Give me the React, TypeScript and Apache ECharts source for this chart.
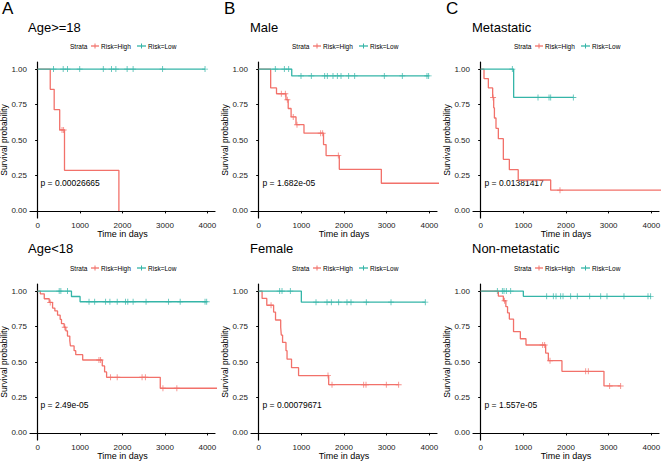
import React, { useEffect, useRef } from "react";
import * as echarts from "echarts";

const FONT = "'Liberation Sans', Arial, Helvetica, sans-serif";
const RED = "#F2716A";
const TEAL = "#35B5A8";

const titles = ["Age>=18", "Male", "Metastatic", "Age<18", "Female", "Non-metastatic"];
const letters = ["A", "B", "C"];
const pValues = ["p = 0.00026665", "p = 1.682e-05", "p = 0.01381417", "p = 2.49e-05", "p = 0.00079671", "p = 1.557e-05"];
const xTicks = [0, 1000, 2000, 3000, 4000];
const yTicks = [0, 0.25, 0.5, 0.75, 1];
const strataLabels = ["Risk=High", "Risk=Low"];

// Panel A: Age>=18
const aHighTime = [0, 297, 390, 520, 633, 1915];
const aHighSurv = [1, 0.857, 0.714, 0.571, 0.286, 0];
const aHighEnd = 1915;
const aHighCensor = [575, 612];
const aLowTime = [0];
const aLowSurv = [1];
const aLowEnd = 3945;
const aLowCensor = [375, 602, 703, 992, 1547, 1742, 1844, 2109, 2250, 2945, 3945];

// Panel B: Male
const bHighTime = [0, 281, 418, 640, 692, 760, 875, 1062, 1520, 1580, 1890, 2875];
const bHighSurv = [1, 0.867, 0.826, 0.784, 0.722, 0.663, 0.608, 0.548, 0.468, 0.39, 0.293, 0.195];
const bHighEnd = 4400;
const bHighCensor = [531, 625, 672, 810, 898, 1453, 1500, 1867];
const bLowTime = [0, 775];
const bLowSurv = [1, 0.952];
const bLowEnd = 3984;
const bLowCensor = [390, 602, 703, 992, 1234, 1547, 1609, 1742, 1844, 1930, 2109, 2250, 2945, 3367, 3945, 3984];

// Panel C: Metastatic
const cHighTime = [0, 78, 180, 281, 305, 322, 359, 414, 531, 672, 880, 1641];
const cHighSurv = [1, 0.933, 0.867, 0.8, 0.727, 0.655, 0.582, 0.509, 0.364, 0.291, 0.218, 0.146];
const cHighEnd = 4400;
const cHighCensor = [290, 1859];
const cLowTime = [0, 773];
const cLowSurv = [1, 0.8];
const cLowEnd = 2172;
const cLowCensor = [742, 1344, 1602, 1641, 2172];

// Panel D: Age<18
const dHighTime = [0, 62, 156, 273, 352, 406, 469, 531, 562, 625, 664, 703, 758, 773, 859, 898, 1062, 1523, 1578, 1625, 2890];
const dHighSurv = [1, 0.981, 0.946, 0.92, 0.88, 0.86, 0.83, 0.8, 0.77, 0.745, 0.72, 0.683, 0.65, 0.613, 0.58, 0.552, 0.514, 0.472, 0.43, 0.392, 0.315];
const dHighEnd = 4400;
const dHighCensor = [297, 640, 1445, 1484, 1719, 1875, 2461, 2539, 2953, 3281];
const dLowTime = [0, 797, 1000];
const dLowSurv = [1, 0.962, 0.925];
const dLowEnd = 3984;
const dLowCensor = [508, 547, 703, 1211, 1344, 1602, 1703, 1875, 2070, 2125, 2250, 2555, 3086, 3359, 3945, 3984];

// Panel E: Female
const eHighTime = [0, 80, 190, 350, 395, 516, 530, 560, 640, 665, 770, 935, 1641];
const eHighSurv = [1, 0.948, 0.9, 0.852, 0.796, 0.745, 0.69, 0.638, 0.58, 0.52, 0.46, 0.404, 0.34];
const eHighEnd = 3281;
const eHighCensor = [290, 1625, 1719, 2461, 2516, 2992, 3281];
const eLowTime = [0, 1000];
const eLowSurv = [1, 0.922];
const eLowEnd = 3906;
const eLowCensor = [492, 547, 742, 1344, 1602, 1703, 1875, 2070, 2164, 2523, 3102, 3906];

// Panel F: Non-metastatic
const fHighTime = [0, 414, 531, 590, 630, 672, 770, 930, 1062, 1523, 1586, 1905, 2890];
const fHighSurv = [1, 0.965, 0.932, 0.89, 0.847, 0.803, 0.714, 0.664, 0.62, 0.563, 0.509, 0.434, 0.331];
const fHighEnd = 3281;
const fHighCensor = [560, 1453, 1500, 1625, 2461, 2523, 3023, 3281];
const fLowTime = [0, 1000];
const fLowSurv = [1, 0.963];
const fLowEnd = 3984;
const fLowCensor = [391, 508, 547, 602, 703, 1547, 1703, 1766, 1875, 1930, 2109, 2265, 2555, 2813, 2961, 3359, 3922, 3984];

const panels = [
  { hT: aHighTime, hS: aHighSurv, hE: aHighEnd, hC: aHighCensor, lT: aLowTime, lS: aLowSurv, lE: aLowEnd, lC: aLowCensor },
  { hT: bHighTime, hS: bHighSurv, hE: bHighEnd, hC: bHighCensor, lT: bLowTime, lS: bLowSurv, lE: bLowEnd, lC: bLowCensor },
  { hT: cHighTime, hS: cHighSurv, hE: cHighEnd, hC: cHighCensor, lT: cLowTime, lS: cLowSurv, lE: cLowEnd, lC: cLowCensor },
  { hT: dHighTime, hS: dHighSurv, hE: dHighEnd, hC: dHighCensor, lT: dLowTime, lS: dLowSurv, lE: dLowEnd, lC: dLowCensor },
  { hT: eHighTime, hS: eHighSurv, hE: eHighEnd, hC: eHighCensor, lT: eLowTime, lS: eLowSurv, lE: eLowEnd, lC: eLowCensor },
  { hT: fHighTime, hS: fHighSurv, hE: fHighEnd, hC: fHighCensor, lT: fLowTime, lS: fLowSurv, lE: fLowEnd, lC: fLowCensor },
];

const PLUS = "path://M3.4,0H4.6V3.4H8V4.6H4.6V8H3.4V4.6H0V3.4H3.4Z";

function kmData(times: number[], surv: number[], end: number) {
  const d = times.map((t, i) => [t, surv[i]]);
  d.push([end, surv[surv.length - 1]]);
  return d;
}
function survAt(times: number[], surv: number[], t: number) {
  let s = surv[0];
  for (let i = 0; i < times.length; i++) if (times[i] <= t) s = surv[i];
  return s;
}

const colLeft = [30, 251, 473];
const colOffset = [0, 222, 444];
const rowTop = [62, 284];
const titleY = [27, 248];
const legendY = [46, 268];
const pY = [183, 405];
const GW = 185;
const GH = 156;

export default function App() {
  const ref = useRef<HTMLDivElement>(null);
  useEffect(() => {
    if (!ref.current) return;
    const chart = echarts.init(ref.current, null, { renderer: "svg" });
    const grid: any[] = [];
    const xAxis: any[] = [];
    const yAxis: any[] = [];
    const series: any[] = [];
    const graphic: any[] = [];
    panels.forEach((p, i) => {
      const col = i % 3;
      const row = Math.floor(i / 3);
      const ox = colOffset[col];
      grid.push({ left: colLeft[col], top: rowTop[row], width: GW + (col === 0 ? 0 : 1), height: GH, containLabel: false, outerBoundsMode: "none" });
      xAxis.push({
        gridIndex: i, type: "value", min: -180, max: 4180,
        name: "Time in days", nameLocation: "middle", nameGap: 11, nameMoveOverlap: false,
        nameTextStyle: { fontFamily: FONT, fontSize: 9, color: "#000" },
        splitLine: { show: false },
        axisLine: { lineStyle: { color: "#000", width: 1.2 } },
        axisTick: { length: 2.5, lineStyle: { color: "#000", width: 1 }, customValues: xTicks },
        axisLabel: { fontFamily: FONT, fontSize: 8, color: "#1a1a1a", margin: 3, customValues: xTicks, formatter: (v: number) => String(v) },
      });
      yAxis.push({
        gridIndex: i, type: "value", min: -0.05, max: 1.05,
        name: "Survival probability", nameLocation: "middle", nameGap: 22, nameMoveOverlap: false,
        nameTextStyle: { fontFamily: FONT, fontSize: 8.5, lineHeight: 9, color: "#000" },
        splitLine: { show: false },
        axisLine: { lineStyle: { color: "#000", width: 1.2 } },
        axisTick: { length: 2.5, lineStyle: { color: "#000", width: 1 }, customValues: yTicks },
        axisLabel: { fontFamily: FONT, fontSize: 8, color: "#1a1a1a", margin: 3, customValues: yTicks, formatter: (v: number) => v.toFixed(2) },
      });
      const groups = [
        { T: p.hT, S: p.hS, E: p.hE, C: p.hC, color: RED },
        { T: p.lT, S: p.lS, E: p.lE, C: p.lC, color: TEAL },
      ];
      groups.forEach((g) => {
        series.push({
          type: "line", xAxisIndex: i, yAxisIndex: i, step: "end", showSymbol: false, symbol: "none",
          data: kmData(g.T, g.S, g.E), clip: true,
          lineStyle: { color: g.color, width: 1.3 }, silent: true,
        });
        series.push({
          type: "scatter", xAxisIndex: i, yAxisIndex: i, symbol: PLUS, symbolSize: 6,
          data: g.C.map((t) => [t, survAt(g.T, g.S, t)]),
          itemStyle: { color: g.color }, silent: true,
        });
      });
      if (row === 0) {
        graphic.push({ type: "text", left: ox + 2, top: 0, style: { text: letters[col], font: `17px ${FONT}`, fill: "#000" } });
      }
      graphic.push({ type: "text", x: ox + 28, y: titleY[row], style: { text: titles[i], font: `13px ${FONT}`, fill: "#000", verticalAlign: "middle" } });
      const ly = legendY[row];
      graphic.push({ type: "text", x: ox + 70, y: ly, style: { text: "Strata", font: `6.5px ${FONT}`, fill: "#000", verticalAlign: "middle" } });
      const keys = [
        { x0: ox + 91, x1: ox + 99, tx: ox + 101, color: RED, label: strataLabels[0] },
        { x0: ox + 137, x1: ox + 146, tx: ox + 148, color: TEAL, label: strataLabels[1] },
      ];
      keys.forEach((k) => {
        graphic.push({ type: "line", shape: { x1: k.x0, y1: ly, x2: k.x1, y2: ly }, style: { stroke: k.color, lineWidth: 1.3 } });
        const cx = (k.x0 + k.x1) / 2;
        graphic.push({ type: "line", shape: { x1: cx, y1: ly - 2.5, x2: cx, y2: ly + 2.5 }, style: { stroke: k.color, lineWidth: 1 } });
        graphic.push({ type: "text", x: k.tx, y: ly, style: { text: k.label, font: `6.5px ${FONT}`, fill: "#000", verticalAlign: "middle" } });
      });
      graphic.push({ type: "text", x: ox + 40.5, y: pY[row], style: { text: pValues[i], font: `8.5px ${FONT}`, fill: "#000", verticalAlign: "middle" } });
    });
    chart.setOption({
      animation: false,
      backgroundColor: "#fff",
      grid, xAxis, yAxis, series, graphic,
    });
    return () => chart.dispose();
  }, []);
  return <div ref={ref} style={{ position: "fixed", left: 0, top: 0, width: 668, height: 462 }} />;
}
